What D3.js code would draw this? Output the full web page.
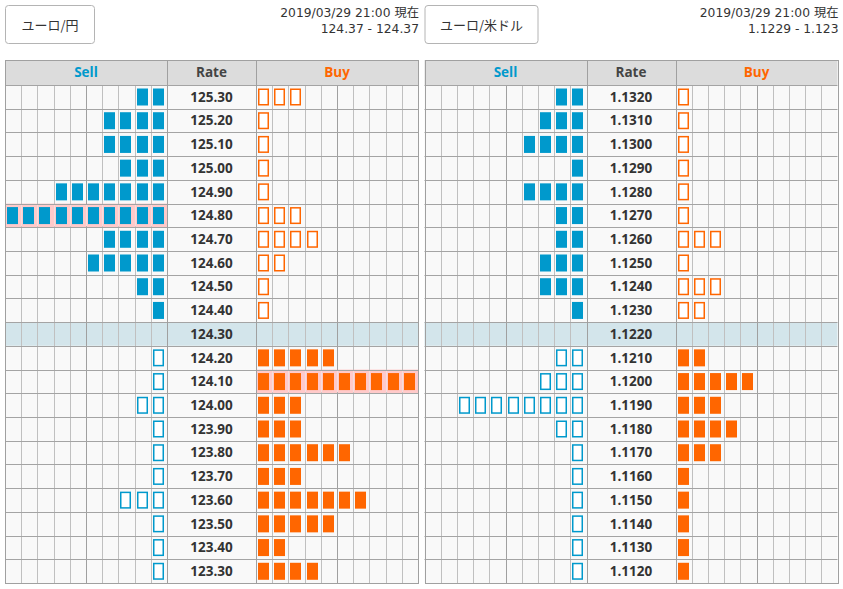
<!DOCTYPE html>
<html><head><meta charset="utf-8">
<script src="https://cdn.jsdelivr.net/npm/d3@7"></script>
<style>body{margin:0;background:#fff}svg{display:block}</style>
</head><body><svg id="c" width="843" height="589"></svg>
<script>
// ---- data ----
const jpyPair = "ユーロ/円";
const jpyQuote = "124.37 - 124.37";
const jpyRates = ["125.30","125.20","125.10","125.00","124.90","124.80","124.70","124.60","124.50","124.40","124.30","124.20","124.10","124.00","123.90","123.80","123.70","123.60","123.50","123.40","123.30"];
const jpySell  = [2,4,4,3,7,10,4,5,2,1,0,1,1,2,1,1,1,3,1,1,1];
const jpyBuy   = [3,1,1,1,1,3,4,2,1,1,0,5,10,3,3,6,3,7,5,2,4];
const jpyCurrent = "124.30";

const usdPair = "ユーロ/米ドル";
const usdQuote = "1.1229 - 1.123";
const usdRates = ["1.1320","1.1310","1.1300","1.1290","1.1280","1.1270","1.1260","1.1250","1.1240","1.1230","1.1220","1.1210","1.1200","1.1190","1.1180","1.1170","1.1160","1.1150","1.1140","1.1130","1.1120"];
const usdSell  = [2,3,4,1,4,2,2,3,3,1,0,2,3,8,2,1,1,1,1,1,1];
const usdBuy   = [1,1,1,1,1,1,3,1,3,2,0,2,5,3,4,3,1,1,1,1,1];
const usdCurrent = "1.1220";

const timestamp = "2019/03/29 21:00 現在";
const headers = ["Sell","Rate","Buy"];
const nCols = 10;

// ---- style ----
const SELL = "#0099cc", BUY = "#ff6600";
const svg = d3.select("#c");

function panel(x0, btnW, pair, quote, rates, sell, buy, current) {
  const g = svg.append("g");
  const sellW = 162, rateW = 89, buyW = 162;
  const xs = d3.scaleBand().domain(d3.range(nCols)).range([x0, x0 + sellW]);
  const xb = d3.scaleBand().domain(d3.range(nCols)).range([x0 + sellW + rateW, x0 + sellW + rateW + buyW]);
  const xr0 = x0 + sellW, xr1 = x0 + sellW + rateW, x1 = xr1 + buyW;
  const y = d3.scaleBand().domain(rates).range([85, 583]);
  const top = 60;
  const curIdx = rates.indexOf(current);
  const px = v => Math.round(v) + 0.5;

  // button
  g.append("rect").attr("x", x0 + 0.5).attr("y", 5.5).attr("width", btnW).attr("height", 38)
    .attr("rx", 3).attr("fill", "#fff").attr("stroke", "#b4b4b4");
  g.append("text").attr("x", x0 + 0.5 + btnW / 2).attr("y", 25).attr("dy", "0.35em")
    .attr("text-anchor", "middle").attr("font-family", "'Noto Sans CJK JP', sans-serif")
    .attr("font-size", 13).attr("fill", "#333").text(pair);
  // timestamp
  g.append("text").attr("x", x1 + 1).attr("y", 17).attr("text-anchor", "end")
    .attr("font-family", "'DejaVu Sans', 'Noto Sans CJK JP', sans-serif").attr("font-size", 12.3)
    .attr("fill", "#333").text(timestamp);
  g.append("text").attr("x", x1 + 1).attr("y", 33).attr("text-anchor", "end")
    .attr("font-family", "'DejaVu Sans', sans-serif").attr("font-size", 12.3)
    .attr("fill", "#333").text(quote);

  // header
  g.append("rect").attr("x", x0).attr("y", top).attr("width", x1 - x0).attr("height", 25).attr("fill", "#dcdcdc");
  const hx = [(x0 + xr0) / 2, (xr0 + xr1) / 2, (xr1 + x1) / 2];
  const hc = [SELL, "#444", BUY];
  g.selectAll(null).data(headers).join("text")
    .attr("x", (d, i) => hx[i]).attr("y", top + 12.5).attr("dy", "0.36em")
    .attr("text-anchor", "middle").attr("font-family", "'Open Sans', sans-serif")
    .attr("font-weight", "bold").attr("font-size", 13.5)
    .attr("fill", (d, i) => hc[i]).text(d => d);

  // row backgrounds
  const rowData = rates.map((r, i) => ({ r, i, s: sell[i], b: buy[i] }));
  g.selectAll(null).data(rowData).join("rect")
    .attr("x", x0).attr("y", d => y(d.r)).attr("width", x1 - x0).attr("height", y.bandwidth())
    .attr("fill", d => d.i === curIdx ? "#d3e5eb" : "#f9f9f9");
  // pink highlight for full rows
  rowData.forEach(d => {
    if (d.s >= nCols) g.append("rect").attr("x", x0).attr("y", y(d.r)).attr("width", sellW)
      .attr("height", y.bandwidth()).attr("fill", "#ffcaca");
    if (d.b >= nCols) g.append("rect").attr("x", xr1).attr("y", y(d.r)).attr("width", buyW)
      .attr("height", y.bandwidth()).attr("fill", "#ffcaca");
  });

  // vertical cell lines
  const vl = [];
  d3.range(1, nCols).forEach(k => {
    vl.push({ x: xs(k), dark: k === 5 });
    vl.push({ x: xb(k), dark: k === 5 });
  });
  g.selectAll(null).data(vl).join("line")
    .attr("x1", d => px(d.x)).attr("x2", d => px(d.x)).attr("y1", 85).attr("y2", 583)
    .attr("stroke", d => d.dark ? "#a0a0a0" : "#c0c0c0");
  // pink row lines over
  rowData.forEach(d => {
    const segs = [];
    if (d.s >= nCols) d3.range(1, nCols).forEach(k => segs.push(xs(k)));
    if (d.b >= nCols) d3.range(1, nCols).forEach(k => segs.push(xb(k)));
    g.selectAll(null).data(segs).join("line")
      .attr("x1", v => px(v)).attr("x2", v => px(v)).attr("y1", y(d.r) + 1).attr("y2", y(d.r) + y.bandwidth() - 1)
      .attr("stroke", "#f4dede");
  });
  // horizontal lines
  g.selectAll(null).data(rates.slice(1)).join("line")
    .attr("x1", x0).attr("x2", x1).attr("y1", d => px(y(d))).attr("y2", d => px(y(d)))
    .attr("stroke", "#a4a4a4");
  g.append("line").attr("x1", x0).attr("x2", x1).attr("y1", px(85)).attr("y2", px(85)).attr("stroke", "#a4a4a4");
  // major vertical lines
  [xr0, xr1].forEach(v => g.append("line").attr("x1", px(v)).attr("x2", px(v))
    .attr("y1", top).attr("y2", 583).attr("stroke", "#a0a0a0"));
  // outer border
  g.append("rect").attr("x", px(x0)).attr("y", px(top)).attr("width", Math.round(x1) - Math.round(x0))
    .attr("height", 583 - top).attr("fill", "none").attr("stroke", "#a0a0a0");

  // marks
  const marks = [];
  rowData.forEach(d => {
    const above = d.i < curIdx;
    for (let k = 0; k < d.s; k++) marks.push({ r: d.r, x: xs(nCols - 1 - k), c: SELL, filled: above });
    for (let k = 0; k < d.b; k++) marks.push({ r: d.r, x: xb(k), c: BUY, filled: !above });
  });
  const mw = 11, mh = 17;
  g.selectAll(null).data(marks).join("rect")
    .attr("x", d => d.filled ? Math.round(d.x) + 2 : Math.round(d.x) + 2.75)
    .attr("y", d => d.filled ? y(d.r) + 3.5 : y(d.r) + 4.25)
    .attr("width", d => d.filled ? mw : mw - 1.5)
    .attr("height", d => d.filled ? mh : mh - 1.5)
    .attr("fill", d => d.filled ? d.c : "#fff")
    .attr("stroke", d => d.filled ? "none" : d.c)
    .attr("stroke-width", 1.5);

  // rate labels
  g.selectAll(null).data(rates).join("text")
    .attr("x", (xr0 + xr1) / 2).attr("y", d => y(d) + y.bandwidth() / 2).attr("dy", "0.36em")
    .attr("text-anchor", "middle").attr("font-family", "'Open Sans', sans-serif")
    .attr("font-weight", "bold").attr("font-size", 13.5).attr("fill", "#333").text(d => d);
}

panel(5, 89, jpyPair, jpyQuote, jpyRates, jpySell, jpyBuy, jpyCurrent);
panel(424.5, 113, usdPair, usdQuote, usdRates, usdSell, usdBuy, usdCurrent);
</script>
</body></html>
